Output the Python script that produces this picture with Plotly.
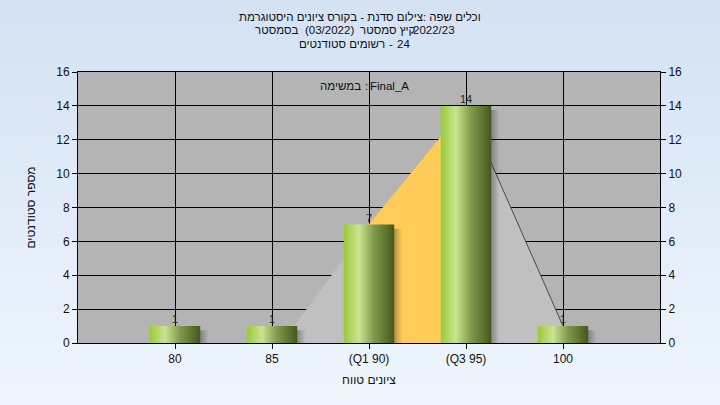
import plotly.graph_objects as go

# ---- data ----
categories = ["80", "85", "(Q1 90)", "(Q3 95)", "100"]
counts = [1, 1, 7, 14, 1]
curve_x = [1.1, 2, 3, 4, 4]          # distribution outline (category index units)
curve_y = [0, 7, 14, 1, 0]
q1_q3_idx = [2, 3]                   # Q1..Q3 highlighted span
y_ticks = [0, 2, 4, 6, 8, 10, 12, 14, 16]

# Text pieces. The reference lays the Hebrew words out left-to-right, so each
# pure-Hebrew piece is written with its word order reversed (a single RTL run),
# and numbers / Latin text are separate pieces so the layout is deterministic.
# (text, x_px, y_px, anchor)
title_pieces = [
    ("וכלים שפה :צילום סדנת - בקורס ציונים היסטוגרמת", 360, 17, "center"),
    ("בסמסטר", 300, 30.5, "right"),
    ("(03/2022)", 329, 30.5, "center"),
    ("קיץ סמסטר", 359, 30.5, "left"),
    ("2022/23", 456, 30.5, "right"),
    ("רשומים סטודנטים", 386, 43.5, "right"),
    ("-", 391, 43.5, "center"),
    ("24", 396, 43.5, "left"),
    ("במשימה", 362, 86, "right"),
    (":", 366, 86, "center"),
    ("Final_A", 369, 86, "left"),
]
x_title = "ציונים טווח"
y_title = "מספר סטודנטים"

FONT = "Liberation Sans, Arial, DejaVu Sans, sans-serif"
idx = list(range(len(categories)))
BW = 0.52

fig = go.Figure()

# distribution area (gray)
fig.add_trace(go.Scatter(x=curve_x, y=curve_y, fill="toself", mode="none",
                         fillcolor="#c0c0c0", hoverinfo="skip", showlegend=False))
# Q1-Q3 area (orange)
qa, qb = q1_q3_idx
fig.add_trace(go.Scatter(x=[qa, qa, qb, qb], y=[0, counts[qa], counts[qb], 0],
                         fill="toself", mode="none", fillcolor="#ffcc5a",
                         hoverinfo="skip", showlegend=False))
# right falling line
fig.add_trace(go.Scatter(x=[qb, idx[-1]], y=[counts[qb], counts[-1]], mode="lines",
                         line=dict(color="#4a4a4a", width=1), hoverinfo="skip",
                         showlegend=False))

# bar shadows + gradient (cylinder look) bars
bar_scale = [[0.0, "rgb(152,202,55)"], [0.3, "rgb(202,228,145)"],
             [0.6, "rgb(128,154,74)"], [1.0, "rgb(68,88,28)"]]
shadow_scale = [[0.0, "rgba(35,35,35,0.8)"], [0.75, "rgba(35,35,35,0.6)"],
                [1.0, "rgba(35,35,35,0.0)"]]
for i, c in zip(idx, counts):
    sx0, sx1 = i - BW / 2 + 0.03, i + BW / 2 + 0.085
    sy0, sy1 = -0.4, c - 0.25
    fig.add_trace(go.Scatter(x=[sx0, sx1, sx1, sx0, sx0], y=[sy0, sy0, sy1, sy1, sy0],
                             fill="toself", mode="none",
                             fillgradient=dict(type="horizontal", colorscale=shadow_scale),
                             hoverinfo="skip", showlegend=False))
for i, c in zip(idx, counts):
    x0, x1 = i - BW / 2, i + BW / 2
    fig.add_trace(go.Scatter(x=[x0, x1, x1, x0, x0], y=[0, 0, c, c, 0],
                             fill="toself", mode="none",
                             fillgradient=dict(type="horizontal", colorscale=bar_scale),
                             hoverinfo="skip", showlegend=False))

# value labels
fig.add_trace(go.Scatter(x=idx, y=counts, mode="text", text=[str(c) for c in counts],
                         textposition="top center",
                         textfont=dict(family=FONT, size=11, color="#222"),
                         hoverinfo="skip", showlegend=False, cliponaxis=False))
# dummy for right axis
fig.add_trace(go.Scatter(x=[idx[0]], y=[0], yaxis="y2", mode="markers",
                         marker=dict(opacity=0), hoverinfo="skip", showlegend=False))

# background gradient bands (paper) + plot area
W, H = 720, 405
L, R, T, B = 78, 60, 72, 62
pw, ph = W - L - R, H - T - B
x0p, x1p = -L / pw, 1 + R / pw
y0p, y1p = -B / ph, 1 + T / ph
top_c, bot_c = (212, 226, 243), (238, 245, 253)
shapes = []
NB = 40
for k in range(NB):
    f = k / (NB - 1)
    col = tuple(round(a + (b - a) * f) for a, b in zip(top_c, bot_c))
    ya = y1p - (y1p - y0p) * k / NB
    yb = y1p - (y1p - y0p) * (k + 1) / NB
    shapes.append(dict(type="rect", xref="paper", yref="paper", x0=x0p, x1=x1p,
                       y0=yb - 0.002, y1=ya + 0.002, fillcolor="rgb(%d,%d,%d)" % col,
                       line=dict(width=0), layer="below"))
shapes.append(dict(type="rect", xref="paper", yref="paper", x0=0, x1=1, y0=0, y1=1,
                   fillcolor="#b4b4b4", line=dict(width=0), layer="below"))

annotations = []
for text, px, py, anchor in title_pieces:
    annotations.append(dict(text=text, xref="paper", yref="paper",
                            x=(px - L) / pw, y=(H - B - py) / ph,
                            showarrow=False, xanchor=anchor, yanchor="middle",
                            borderpad=0,
                            font=dict(family=FONT, size=11.5, color="#111")))

axis_font = dict(family=FONT, size=12, color="#111")
fig.update_layout(
    width=W, height=H,
    margin=dict(l=L, r=R, t=T, b=B, pad=0),
    paper_bgcolor="#e4edf8",
    plot_bgcolor="#b4b4b4",
    shapes=shapes,
    annotations=annotations,
    xaxis=dict(range=[-1, 5], tickmode="array", tickvals=idx, ticktext=categories,
               showgrid=True, gridcolor="#000", gridwidth=1,
               showline=True, linecolor="#000", linewidth=1, mirror=True,
               ticks="outside", ticklen=5, tickcolor="#000", zeroline=False,
               tickfont=axis_font,
               title=dict(text=x_title, font=axis_font, standoff=10)),
    yaxis=dict(range=[0, 16], tickmode="array", tickvals=y_ticks,
               showgrid=True, gridcolor="#000", gridwidth=1,
               showline=True, linecolor="#000", linewidth=1,
               ticks="outside", ticklen=5, tickcolor="#000", zeroline=False,
               tickfont=axis_font,
               title=dict(text=y_title, font=axis_font, standoff=18)),
    yaxis2=dict(range=[0, 16], tickmode="array", tickvals=y_ticks, overlaying="y",
                side="right", showgrid=False, showline=True, linecolor="#000",
                linewidth=1, ticks="outside", ticklen=5, tickcolor="#000",
                zeroline=False, tickfont=axis_font),
    font=dict(family=FONT),
)

fig.write_html("out.html", config={"displayModeBar": False},
               post_script="document.body.style.margin='0';"
                           "document.body.style.overflow='hidden';")
